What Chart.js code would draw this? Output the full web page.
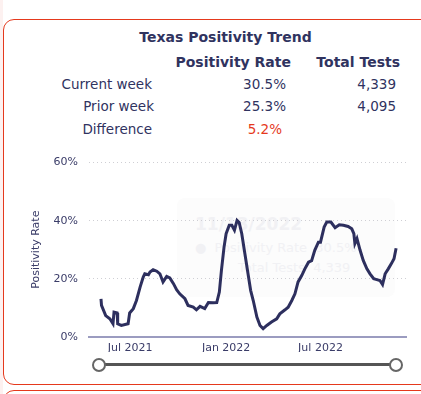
<!DOCTYPE html>
<html>
<head>
<meta charset="utf-8">
<script src="https://cdn.jsdelivr.net/npm/chart.js@4.4.0/dist/chart.umd.min.js"></script>
<style>
  body { margin: 0; width: 421px; height: 394px; overflow: hidden; background: #fff; position: relative;
         font-family: "DejaVu Sans", sans-serif; color: #30335f; }
  .edge { position: absolute; left: 0; top: 0; width: 3px; height: 394px; background: #fdf1f0; }
  .card { position: absolute; left: 3px; top: 19px; width: 460px; height: 366px; box-sizing: border-box;
          border: 1.5px solid #e5391d; border-radius: 11px; background: #fff; }
  .card2 { top: 390px; height: 60px; }
  .t { position: absolute; white-space: nowrap; font-size: 13.5px; line-height: 16px; }
  .b { font-weight: bold; font-size: 14px; }
  .ghost { position: absolute; left: 177px; top: 198px; width: 218px; height: 99px; background: #fcfcfc;
           border-radius: 8px; color: #f1f1f4; }
  .ghost div { position: absolute; white-space: nowrap; }
  #wrap { position: absolute; left: 0; top: 145px; width: 421px; height: 219px; }
  .track { position: absolute; left: 99px; top: 363px; width: 297px; height: 3px; background: #555; }
  .knob { position: absolute; top: 358px; width: 10px; height: 10px; border: 2px solid #666;
          border-radius: 50%; background: #fff; }
</style>
</head>
<body>
<div class="edge"></div>
<div class="card"></div>
<div class="card card2"></div>

<div class="t b" style="left:0;width:451px;text-align:center;top:29px;">Texas Positivity Trend</div>
<div class="t b" style="right:130px;top:54px;">Positivity Rate</div>
<div class="t b" style="right:21px;top:54px;">Total Tests</div>

<div class="t" style="right:269px;top:76px;">Current week</div>
<div class="t" style="right:135px;top:76px;">30.5%</div>
<div class="t" style="right:25px;top:76px;">4,339</div>

<div class="t" style="right:267px;top:98px;">Prior week</div>
<div class="t" style="right:135px;top:98px;">25.3%</div>
<div class="t" style="right:25px;top:98px;">4,095</div>

<div class="t" style="right:269px;top:121px;">Difference</div>
<div class="t" style="right:139px;top:121px;color:#e5391d;">5.2%</div>

<div class="ghost">
  <div style="left:18px;top:16px;font-size:17px;font-weight:bold;">11/13/2022</div>
  <div style="left:18px;top:42px;font-size:13px;">● &nbsp;Positivity Rate &nbsp;30.5%</div>
  <div style="left:61px;top:62px;font-size:13px;">Total Tests &nbsp;4,339</div>
</div>

<div id="wrap"><canvas id="can"></canvas></div>

<div class="track"></div>
<div class="knob" style="left:92px;"></div>
<div class="knob" style="left:389px;"></div>

<script>
// Positivity rate series
const dates = [
  "2021-05-06", "2021-05-07", "2021-05-15", "2021-05-23", "2021-05-29", "2021-05-31",
  "2021-06-06", "2021-06-07", "2021-06-14", "2021-06-27", "2021-06-30", "2021-07-07",
  "2021-07-13", "2021-07-20", "2021-07-26", "2021-07-29", "2021-08-05", "2021-08-08",
  "2021-08-14", "2021-08-21", "2021-08-27", "2021-09-02", "2021-09-09", "2021-09-15",
  "2021-09-22", "2021-09-28", "2021-10-04", "2021-10-14", "2021-10-20", "2021-10-30",
  "2021-11-05", "2021-11-12", "2021-11-21", "2021-11-28", "2021-12-07", "2021-12-14",
  "2021-12-19", "2021-12-23", "2021-12-28", "2022-01-01", "2022-01-07", "2022-01-12",
  "2022-01-17", "2022-01-22", "2022-01-26", "2022-01-31", "2022-02-06", "2022-02-12",
  "2022-02-17", "2022-02-22", "2022-03-01", "2022-03-07", "2022-03-13", "2022-03-20",
  "2022-03-29", "2022-04-08", "2022-04-14", "2022-04-24", "2022-04-30", "2022-05-07",
  "2022-05-13", "2022-05-19", "2022-05-26", "2022-06-01", "2022-06-08", "2022-06-14",
  "2022-06-20", "2022-06-27", "2022-07-01", "2022-07-08", "2022-07-13", "2022-07-21",
  "2022-07-29", "2022-08-06", "2022-08-14", "2022-08-23", "2022-08-30", "2022-09-03",
  "2022-09-05", "2022-09-09", "2022-09-15", "2022-09-21", "2022-09-28", "2022-10-04",
  "2022-10-11", "2022-10-17", "2022-10-23", "2022-10-28", "2022-11-02", "2022-11-08",
  "2022-11-14", "2022-11-19", "2022-11-23"
];
const positivity = [
  13.1, 10.8, 7.3, 6.2, 4.5, 8.5,
  8.2, 4.5, 3.9, 4.5, 8.2, 9.7,
  12.5, 17.1, 20.6, 21.7, 21.4, 22.3,
  23.1, 22.6, 21.7, 18.9, 20.8, 20.3,
  18.3, 16.2, 14.8, 13.1, 10.8, 10.2,
  9.3, 10.5, 9.7, 11.8, 11.7, 11.8,
  15.4, 22.9, 30.9, 35.5, 38.4, 38.4,
  36.7, 40.1, 39.4, 35.5, 28.6, 21.7,
  16.0, 12.5, 6.8, 3.9, 2.8, 3.9,
  5.1, 6.2, 7.9, 9.3, 10.2, 12.5,
  14.8, 18.9, 21.1, 23.4, 25.7, 26.2,
  29.8, 32.6, 32.6, 37.8, 39.5, 39.5,
  37.6, 38.6, 38.4, 38.0, 37.2, 35.5,
  32.1, 33.8, 29.8, 26.3, 23.4, 21.7,
  20.0, 19.7, 19.4, 18.0, 21.7, 23.4,
  25.2, 26.9, 30.5
];

// x axis ticks
const tickDates = ["2021-07-01", "2022-01-01", "2022-07-01"];
const tickLabels = ["Jul 2021", "Jan 2022", "Jul 2022"];
const yTicks = [0, 20, 40, 60];

// days counted from 1 Jul 2021
const origin = Date.parse("2021-07-01");
const toDay = d => Math.round((Date.parse(d) - origin) / 86400000);

const points = dates.map((d, i) => ({ x: toDay(d), y: positivity[i] }));
const tickDays = tickDates.map(toDay);

const navy = "#2d2f5e";
const tickFont = { family: "DejaVu Sans", size: 11 };

new Chart(document.getElementById("can"), {
  type: "line",
  data: {
    datasets: [{
      label: "Positivity Rate",
      data: points,
      borderColor: navy,
      borderWidth: 3,
      pointRadius: 0,
      tension: 0,
      fill: false
    }]
  },
  options: {
    responsive: true,
    maintainAspectRatio: false,
    animation: false,
    layout: { padding: { left: 26, right: 15, top: 10, bottom: 12 } },
    plugins: { legend: { display: false }, tooltip: { enabled: false } },
    scales: {
      x: {
        type: "linear",
        min: -79,
        max: 529,
        afterBuildTicks: s => { s.ticks = tickDays.map(v => ({ value: v })); },
        ticks: {
          autoSkip: false,
          maxRotation: 0,
          padding: -3,
          color: "#3a3c68",
          font: tickFont,
          callback: v => tickLabels[tickDays.indexOf(v)]
        },
        grid: { display: false },
        border: { display: true, color: "#9b9cc0", width: 2 }
      },
      y: {
        min: 0,
        max: 60,
        afterBuildTicks: s => { s.ticks = yTicks.map(v => ({ value: v })); },
        afterFit: s => { s.width = 63; },
        ticks: {
          padding: 11,
          color: "#3a3c68",
          font: tickFont,
          callback: v => v + "%"
        },
        grid: { drawTicks: false, color: "#cfcfd4", lineWidth: 1 },
        border: { display: false, dash: [1, 3] },
        title: {
          display: true,
          text: "Positivity Rate",
          color: "#3a3c68",
          font: tickFont
        }
      }
    }
  }
});
</script>
</body>
</html>
